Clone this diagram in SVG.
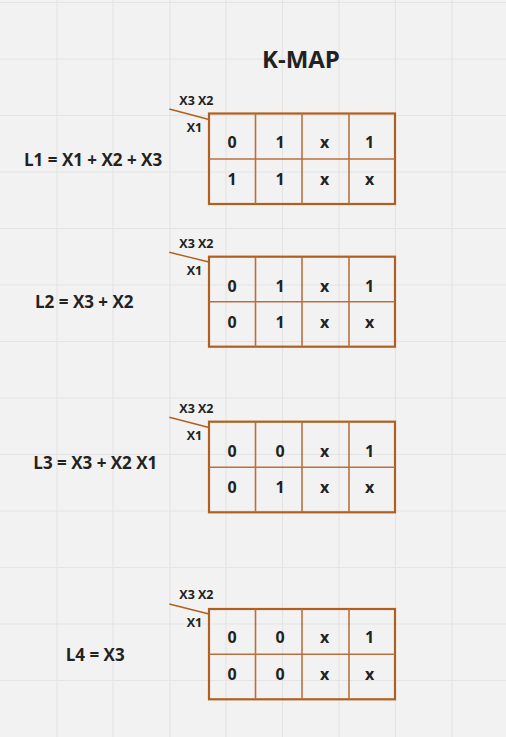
<svg xmlns="http://www.w3.org/2000/svg" width="506" height="737" viewBox="0 0 506 737">
<style>
.grid line{stroke:#e4e4e4;stroke-width:1.2}
.frame{fill:none;stroke:#b0601e;stroke-width:2.2}
.inner{stroke:#b87040;stroke-width:1.6}
.diag{stroke:#b0601e;stroke-width:1.4}
text{font-family:"Open Sans","Liberation Sans",sans-serif;font-weight:bold;fill:#222}
.cell{font-size:16px;text-anchor:middle}
.hdr{font-size:12.5px}
.eq{font-size:17px}
.title{font-size:24px}
</style>
<rect width="506" height="737" fill="#f2f2f2"/>
<g class="grid">
<line x1="57" y1="0" x2="57" y2="737"/><line x1="113" y1="0" x2="113" y2="737"/><line x1="170" y1="0" x2="170" y2="737"/><line x1="226" y1="0" x2="226" y2="737"/><line x1="282.5" y1="0" x2="282.5" y2="737"/><line x1="339" y1="0" x2="339" y2="737"/><line x1="395.5" y1="0" x2="395.5" y2="737"/><line x1="452" y1="0" x2="452" y2="737"/>
<line x1="0" y1="2.5" x2="506" y2="2.5"/><line x1="0" y1="59" x2="506" y2="59"/><line x1="0" y1="115.5" x2="506" y2="115.5"/><line x1="0" y1="172" x2="506" y2="172"/><line x1="0" y1="228.5" x2="506" y2="228.5"/><line x1="0" y1="285" x2="506" y2="285"/><line x1="0" y1="341.5" x2="506" y2="341.5"/><line x1="0" y1="398" x2="506" y2="398"/><line x1="0" y1="454.5" x2="506" y2="454.5"/><line x1="0" y1="511" x2="506" y2="511"/><line x1="0" y1="567.5" x2="506" y2="567.5"/><line x1="0" y1="624" x2="506" y2="624"/><line x1="0" y1="680.5" x2="506" y2="680.5"/>
</g>
<text id="title" class="title" x="262" y="67.5">K-MAP</text>
<g id="eq1"><text class="eq" x="24" y="165.5">L1 = X1 + X2 + X3</text></g>
<g id="eq2"><text class="eq" x="35" y="308.3">L2 = X3 + X2</text></g>
<g id="eq3"><text class="eq" x="33.3" y="469">L3 = X3 + X2 X1</text></g>
<g id="eq4"><text class="eq" x="65.7" y="660.7">L4 = X3</text></g>
<g class="connectors">
<line class="diag" x1="169.3" y1="109" x2="209" y2="119.5"/>
<line class="diag" x1="169.3" y1="252.3" x2="209" y2="262"/>
<line class="diag" x1="169.3" y1="417.3" x2="209" y2="427.5"/>
<line class="diag" x1="169.3" y1="604" x2="209" y2="614"/>
</g>
<g id="kmap1">
<text class="hdr" x="179.3" y="105">X3 X2</text><text class="hdr" x="186.7" y="132.3">X1</text>
<rect class="frame" x="209" y="113.5" width="186" height="90.5"/>
<line class="inner" x1="209" y1="159" x2="395" y2="159"/><line class="inner" x1="255.5" y1="113.5" x2="255.5" y2="204"/><line class="inner" x1="302" y1="113.5" x2="302" y2="204"/><line class="inner" x1="349" y1="113.5" x2="349" y2="204"/>
<text class="cell" x="232" y="148.3">0</text><text class="cell" x="280" y="148.3">1</text><text class="cell" x="324.5" y="148.3">x</text><text class="cell" x="369.5" y="148.3">1</text>
<text class="cell" x="232" y="185">1</text><text class="cell" x="280" y="185">1</text><text class="cell" x="324.5" y="185">x</text><text class="cell" x="369.5" y="185">x</text>
</g>
<g id="kmap2">
<text class="hdr" x="179.3" y="247.7">X3 X2</text><text class="hdr" x="186.7" y="275">X1</text>
<rect class="frame" x="209" y="256.7" width="186" height="90"/>
<line class="inner" x1="209" y1="301.7" x2="395" y2="301.7"/><line class="inner" x1="255.5" y1="256.7" x2="255.5" y2="346.7"/><line class="inner" x1="302" y1="256.7" x2="302" y2="346.7"/><line class="inner" x1="349" y1="256.7" x2="349" y2="346.7"/>
<text class="cell" x="232" y="291.7">0</text><text class="cell" x="280" y="291.7">1</text><text class="cell" x="324.5" y="291.7">x</text><text class="cell" x="369.5" y="291.7">1</text>
<text class="cell" x="232" y="328.3">0</text><text class="cell" x="280" y="328.3">1</text><text class="cell" x="324.5" y="328.3">x</text><text class="cell" x="369.5" y="328.3">x</text>
</g>
<g id="kmap3">
<text class="hdr" x="179.3" y="412.7">X3 X2</text><text class="hdr" x="186.7" y="440">X1</text>
<rect class="frame" x="209" y="421.7" width="186" height="90.6"/>
<line class="inner" x1="209" y1="467.3" x2="395" y2="467.3"/><line class="inner" x1="255.5" y1="421.7" x2="255.5" y2="512.3"/><line class="inner" x1="302" y1="421.7" x2="302" y2="512.3"/><line class="inner" x1="349" y1="421.7" x2="349" y2="512.3"/>
<text class="cell" x="232" y="456.7">0</text><text class="cell" x="280" y="456.7">0</text><text class="cell" x="324.5" y="456.7">x</text><text class="cell" x="369.5" y="456.7">1</text>
<text class="cell" x="232" y="493.3">0</text><text class="cell" x="280" y="493.3">1</text><text class="cell" x="324.5" y="493.3">x</text><text class="cell" x="369.5" y="493.3">x</text>
</g>
<g id="kmap4">
<text class="hdr" x="179.3" y="599.3">X3 X2</text><text class="hdr" x="186.7" y="626.7">X1</text>
<rect class="frame" x="209" y="609" width="186" height="90.3"/>
<line class="inner" x1="209" y1="654.3" x2="395" y2="654.3"/><line class="inner" x1="255.5" y1="609" x2="255.5" y2="699.3"/><line class="inner" x1="302" y1="609" x2="302" y2="699.3"/><line class="inner" x1="349" y1="609" x2="349" y2="699.3"/>
<text class="cell" x="232" y="643.3">0</text><text class="cell" x="280" y="643.3">0</text><text class="cell" x="324.5" y="643.3">x</text><text class="cell" x="369.5" y="643.3">1</text>
<text class="cell" x="232" y="680">0</text><text class="cell" x="280" y="680">0</text><text class="cell" x="324.5" y="680">x</text><text class="cell" x="369.5" y="680">x</text>
</g>
</svg>
